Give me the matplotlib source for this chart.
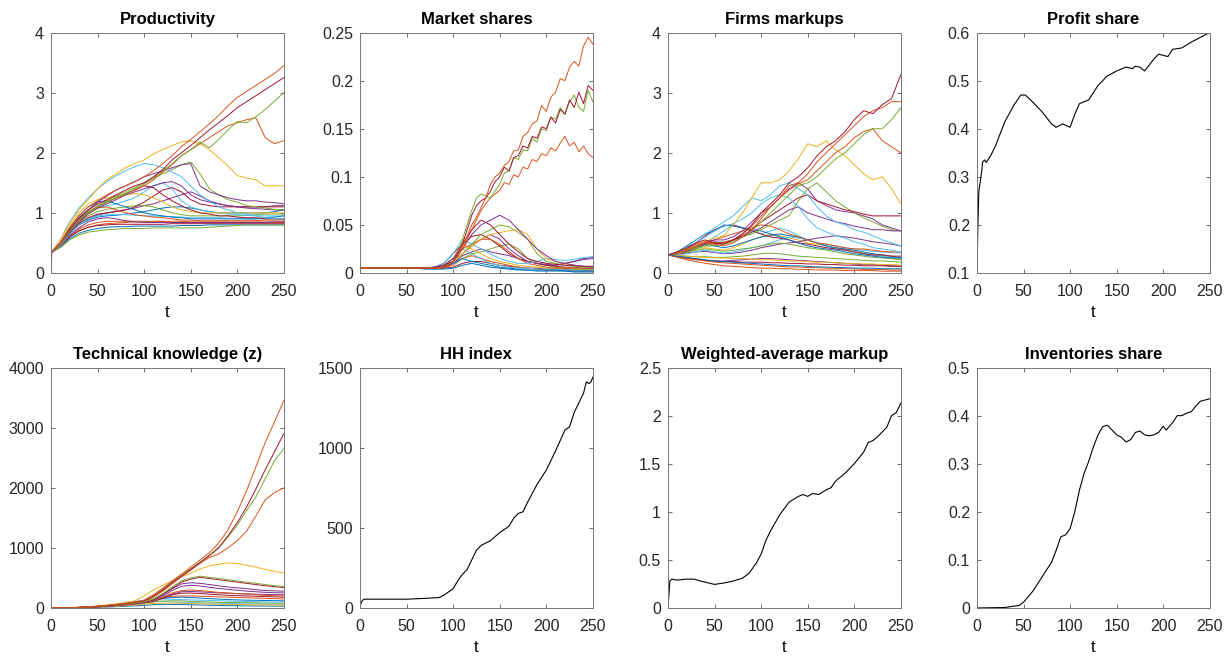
import matplotlib
matplotlib.use("Agg")
import matplotlib.pyplot as plt
from matplotlib.ticker import FormatStrFormatter

plt.rcParams["font.family"] = ["Liberation Sans", "DejaVu Sans"]

# MATLAB default colour order: blue, orange, yellow, purple, green, light blue, crimson
MATLAB = ["#0072BD", "#D95319", "#EDB120", "#7E2F8E", "#77AC30", "#4DBEEE", "#A2142F"]

T10 = [0, 10, 20, 30, 40, 50, 60, 70, 80, 90, 100, 110, 120, 130, 140,
       150, 160, 170, 180, 190, 200, 210, 220, 230, 240, 250]
T5 = [0, 5, 10, 15, 20, 25, 30, 35, 40, 45, 50, 55, 60, 65, 70, 75, 80, 85, 90, 95,
      100, 105, 110, 115, 120, 125, 130, 135, 140, 145, 150, 155, 160, 165, 170, 175,
      180, 185, 190, 195, 200, 205, 210, 215, 220, 225, 230, 235, 240, 245, 250]

# ---- Productivity (firm level), sampled at t = 1, 10, ..., 250
PROD_T = [1, 10, 20, 30, 40, 50, 60, 70, 80, 90, 100, 110, 120, 130, 140,
          150, 160, 170, 180, 190, 200, 210, 220, 230, 240, 250]
PROD_T0, PROD_Y0 = 0, 0.0
PROD_LINES = [
    [.35, .5, .75, .95, 1.1, 1.2, 1.3, 1.38, 1.45, 1.52, 1.6, 1.7, 1.82, 1.95, 2.1, 2.22, 2.35, 2.48, 2.62, 2.78, 2.92, 3.02, 3.12, 3.22, 3.32, 3.45],
    [.35, .5, .72, .92, 1.05, 1.15, 1.22, 1.3, 1.38, 1.45, 1.5, 1.6, 1.72, 1.88, 2.0, 2.12, 2.25, 2.38, 2.5, 2.62, 2.75, 2.85, 2.95, 3.05, 3.15, 3.25],
    [.35, .48, .7, .88, 1.0, 1.1, 1.18, 1.25, 1.32, 1.4, 1.48, 1.58, 1.7, 1.82, 1.95, 2.05, 2.18, 2.08, 2.22, 2.38, 2.52, 2.5, 2.6, 2.72, 2.86, 3.0],
    [.35, .48, .7, .88, 1.0, 1.1, 1.18, 1.25, 1.32, 1.38, 1.45, 1.55, 1.68, 1.8, 1.95, 2.05, 2.15, 2.25, 2.35, 2.45, 2.5, 2.55, 2.58, 2.25, 2.15, 2.2],
    [.35, .55, .82, 1.05, 1.22, 1.4, 1.55, 1.65, 1.75, 1.82, 1.88, 1.98, 2.05, 2.12, 2.18, 2.2, 2.15, 2.05, 1.92, 1.78, 1.62, 1.58, 1.55, 1.45, 1.45, 1.45],
    [.35, .55, .85, 1.08, 1.25, 1.4, 1.52, 1.62, 1.7, 1.77, 1.82, 1.8, 1.75, 1.68, 1.6, 1.45, 1.3, 1.2, 1.1, 1.05, 1.0, .98, .95, .92, .9, .9],
    [.35, .48, .7, .9, 1.05, 1.18, 1.28, 1.38, 1.45, 1.52, 1.6, 1.65, 1.7, 1.75, 1.8, 1.82, 1.45, 1.35, 1.3, 1.25, 1.22, 1.2, 1.2, 1.18, 1.17, 1.15],
    [.35, .48, .7, .88, 1.02, 1.12, 1.2, 1.28, 1.35, 1.42, 1.5, 1.58, 1.65, 1.72, 1.8, 1.85, 1.65, 1.4, 1.3, 1.22, 1.18, 1.12, 1.1, 1.08, 1.06, 1.05],
    [.35, .47, .68, .85, .98, 1.08, 1.15, 1.22, 1.3, 1.35, 1.4, 1.45, 1.5, 1.52, 1.45, 1.3, 1.22, 1.18, 1.15, 1.12, 1.1, 1.08, 1.07, 1.06, 1.05, 1.05],
    [.35, .47, .68, .85, 1.0, 1.1, 1.18, 1.25, 1.32, 1.38, 1.45, 1.42, 1.3, 1.2, 1.12, 1.05, 1.0, .98, .95, .95, .93, .92, .92, .9, .9, .9],
    [.35, .5, .75, .95, 1.1, 1.18, 1.2, 1.15, 1.1, 1.05, 1.0, .97, .95, .93, .92, .9, .9, .9, .9, .9, .9, .9, .9, .92, .93, .95],
    [.35, .47, .7, .88, 1.0, 1.08, 1.1, 1.05, 1.0, .97, .95, .93, .92, .9, .88, .88, .87, .87, .87, .87, .87, .87, .87, .88, .88, .88],
    [.35, .45, .65, .8, .9, .95, .97, .97, .97, .96, .95, .95, .94, .94, .93, .92, .92, .92, .92, .91, .91, .9, .9, .9, .9, .9],
    [.35, .45, .62, .75, .85, .9, .92, .9, .87, .85, .84, .84, .84, .84, .84, .84, .84, .84, .84, .84, .84, .84, .84, .84, .85, .85],
    [.35, .42, .55, .63, .68, .7, .72, .73, .74, .74, .74, .75, .75, .75, .75, .75, .75, .76, .77, .78, .79, .8, .8, .8, .8, .8],
    [.35, .43, .57, .66, .71, .74, .76, .77, .77, .78, .78, .78, .78, .78, .79, .79, .79, .8, .8, .8, .8, .8, .8, .8, .8, .8],
    [.35, .45, .6, .7, .76, .79, .8, .81, .81, .81, .81, .81, .81, .82, .82, .82, .82, .82, .82, .82, .82, .82, .82, .82, .82, .82],
    [.35, .44, .62, .73, .8, .84, .86, .86, .86, .86, .86, .86, .86, .86, .86, .85, .85, .85, .85, .85, .85, .85, .85, .85, .85, .85],
    [.35, .5, .78, 1.0, 1.15, 1.22, 1.25, 1.28, 1.3, 1.32, 1.3, 1.25, 1.18, 1.1, 1.05, 1.02, 1.0, 1.0, 1.0, 1.0, 1.0, 1.0, 1.0, 1.0, 1.0, 1.0],
    [.35, .48, .72, .9, 1.02, 1.08, 1.12, 1.15, 1.2, 1.25, 1.35, 1.45, 1.5, 1.4, 1.2, 1.1, 1.05, 1.02, 1.0, .98, .97, .96, .95, .95, .95, .95],
    [.35, .46, .66, .82, .92, .98, 1.0, 1.02, 1.05, 1.1, 1.18, 1.28, 1.38, 1.42, 1.35, 1.22, 1.15, 1.12, 1.1, 1.1, 1.1, 1.1, 1.1, 1.1, 1.1, 1.1],
    [.35, .46, .65, .8, .88, .93, .95, .96, .98, 1.0, 1.02, 1.05, 1.08, 1.1, 1.1, 1.08, 1.05, 1.02, 1.0, 1.0, 1.0, 1.0, 1.0, 1.0, 1.02, 1.05],
    [.35, .44, .6, .7, .76, .8, .82, .83, .84, .85, .85, .85, .85, .84, .84, .84, .84, .84, .84, .84, .84, .84, .84, .84, .84, .84],
    [.35, .46, .68, .84, .95, 1.02, 1.06, 1.08, 1.1, 1.12, 1.12, 1.1, 1.05, 1.0, .97, .95, .95, .95, .95, .95, .95, .96, .97, .98, .98, .98],
    [.35, .45, .65, .8, .9, .96, 1.0, 1.03, 1.05, 1.08, 1.12, 1.15, 1.2, 1.25, 1.3, 1.35, 1.28, 1.2, 1.15, 1.12, 1.1, 1.1, 1.1, 1.1, 1.12, 1.12],
]
PROD_COLORS = [1, 6, 4, 1, 2, 5, 3, 4, 3, 6, 0, 1, 5, 3, 4, 0, 6, 1, 2, 5, 6, 0, 1, 4, 3]

# ---- Market shares: leading firms every 5 periods, the rest every 10
SHARE_TOP = [
    [.005, .005, .005, .005, .005, .005, .005, .005, .005, .005,
     .005, .005, .005, .005, .005, .005, .005, .005, .007, .009,
     .012, .018, .028, .038, .05, .058, .068, .078, .092, .1,
     .104, .112, .116, .127, .128, .142, .146, .155, .158, .174,
     .168, .183, .188, .202, .2, .214, .22, .215, .236, .245, .238],
    [.005, .005, .005, .005, .005, .005, .005, .005, .005, .005,
     .005, .005, .005, .005, .005, .005, .005, .005, .006, .008,
     .012, .02, .03, .045, .06, .07, .075, .078, .085, .095,
     .1, .11, .106, .12, .122, .132, .13, .142, .14, .152,
     .15, .162, .156, .17, .165, .18, .172, .188, .176, .195, .19],
    [.005, .005, .005, .005, .005, .005, .005, .005, .005, .005,
     .005, .005, .005, .005, .005, .005, .005, .005, .006, .008,
     .012, .02, .035, .05, .065, .078, .082, .08, .078, .085,
     .092, .104, .106, .12, .118, .128, .127, .14, .136, .15,
     .148, .162, .16, .172, .165, .178, .185, .172, .168, .19, .178],
    [.005, .005, .005, .005, .005, .005, .005, .005, .005, .005,
     .005, .005, .005, .005, .005, .005, .005, .005, .006, .008,
     .012, .018, .025, .035, .045, .055, .065, .072, .078, .082,
     .086, .094, .092, .102, .1, .11, .108, .118, .116, .124,
     .122, .13, .127, .135, .142, .132, .136, .126, .132, .124, .12],
]
SHARE_TOP_COLORS = [1, 6, 4, 1]
SHARE_REST = [
    [.005, .005, .005, .005, .005, .005, .005, .005, .006, .008, .012, .025, .04, .05, .055, .06, .055, .045, .035, .025, .018, .012, .01, .008, .007, .006],
    [.005, .005, .005, .005, .005, .005, .005, .005, .006, .008, .015, .03, .045, .055, .05, .04, .03, .022, .015, .012, .01, .009, .008, .008, .007, .007],
    [.005, .005, .005, .005, .005, .005, .005, .005, .005, .008, .012, .02, .028, .035, .04, .042, .044, .045, .04, .025, .015, .012, .01, .008, .007, .006],
    [.005, .005, .005, .005, .005, .005, .005, .005, .005, .007, .012, .02, .03, .04, .045, .05, .048, .042, .035, .02, .012, .01, .008, .007, .006, .006],
    [.005, .005, .005, .005, .005, .005, .005, .005, .006, .01, .02, .035, .03, .025, .02, .015, .012, .01, .01, .012, .015, .014, .013, .014, .016, .017],
    [.005, .005, .005, .005, .005, .005, .005, .005, .006, .008, .012, .02, .028, .035, .04, .035, .025, .018, .012, .01, .009, .008, .01, .012, .015, .016],
    [.005, .005, .005, .005, .005, .005, .005, .005, .006, .008, .012, .025, .03, .035, .035, .03, .022, .015, .01, .008, .006, .005, .005, .005, .005, .005],
    [.005, .005, .005, .005, .005, .005, .005, .005, .005, .006, .01, .015, .012, .01, .008, .006, .005, .004, .003, .003, .003, .003, .002, .002, .002, .002],
    [.005, .005, .005, .005, .005, .005, .005, .005, .006, .01, .02, .03, .038, .04, .035, .028, .02, .015, .012, .01, .008, .007, .006, .006, .005, .005],
    [.005, .005, .005, .005, .005, .005, .005, .005, .005, .007, .01, .015, .02, .022, .025, .028, .03, .025, .015, .01, .008, .006, .005, .004, .004, .004],
    [.005, .005, .005, .005, .005, .005, .005, .005, .006, .008, .015, .025, .02, .015, .01, .008, .006, .005, .005, .004, .004, .004, .003, .003, .003, .003],
    [.005, .005, .005, .005, .005, .005, .005, .005, .005, .007, .012, .03, .025, .02, .015, .012, .01, .008, .007, .006, .005, .005, .005, .004, .004, .004],
    [.005, .005, .005, .005, .005, .005, .005, .004, .004, .004, .005, .008, .01, .008, .006, .005, .004, .003, .003, .002, .002, .002, .002, .001, .001, .001],
    [.005, .005, .005, .005, .005, .005, .005, .005, .005, .006, .008, .015, .018, .015, .012, .01, .008, .006, .005, .004, .003, .003, .003, .002, .002, .002],
    [.005, .005, .005, .005, .005, .005, .005, .005, .005, .006, .01, .018, .022, .025, .022, .02, .018, .015, .012, .01, .008, .008, .01, .012, .014, .015],
    [.005, .005, .005, .005, .005, .005, .005, .005, .005, .005, .006, .01, .012, .012, .01, .008, .007, .006, .005, .005, .004, .004, .004, .004, .003, .003],
]
SHARE_REST_COLORS = [3, 6, 2, 4, 5, 3, 1, 0, 6, 4, 5, 2, 0, 1, 3, 6]

# ---- Firms markups, every 10 periods
MARKUP_LINES = [
    [.3, .35, .42, .5, .55, .5, .48, .55, .65, .8, 1.0, 1.15, 1.3, 1.5, 1.6, 1.75, 1.95, 2.1, 2.2, 2.35, 2.55, 2.7, 2.65, 2.8, 2.9, 3.3],
    [.3, .33, .38, .45, .5, .48, .45, .5, .6, .72, .9, 1.1, 1.25, 1.45, 1.5, 1.65, 1.85, 2.0, 2.15, 2.3, 2.45, 2.6, 2.7, 2.75, 2.85, 2.85],
    [.3, .33, .38, .42, .45, .45, .48, .52, .6, .7, .85, 1.0, 1.15, 1.3, 1.45, 1.5, 1.6, 1.75, 1.9, 2.0, 2.15, 2.3, 2.4, 2.4, 2.55, 2.75],
    [.3, .34, .4, .48, .52, .5, .5, .55, .65, .78, .95, 1.1, 1.25, 1.38, 1.48, 1.55, 1.7, 1.85, 2.0, 2.1, 2.25, 2.35, 2.4, 2.2, 2.1, 2.0],
    [.3, .32, .38, .45, .52, .58, .62, .8, 1.0, 1.25, 1.5, 1.5, 1.55, 1.7, 1.9, 2.15, 2.1, 2.2, 2.05, 1.95, 1.8, 1.65, 1.55, 1.6, 1.4, 1.15],
    [.3, .35, .42, .55, .65, .75, .85, .95, 1.1, 1.25, 1.2, 1.3, 1.45, 1.5, 1.4, 1.3, 1.1, .95, .85, .8, .72, .68, .62, .55, .5, .45],
    [.3, .33, .38, .5, .6, .7, .78, .82, .9, 1.0, 1.15, 1.25, 1.3, 1.25, 1.1, .9, .75, .68, .62, .58, .52, .48, .42, .4, .38, .35],
    [.3, .33, .38, .45, .5, .48, .5, .55, .62, .72, .85, .95, 1.05, 1.15, 1.25, 1.3, 1.2, 1.15, 1.1, 1.05, 1.02, .98, .95, .95, .95, .95],
    [.3, .32, .36, .42, .48, .52, .5, .55, .6, .68, .75, .85, .95, 1.05, 1.1, 1.0, .95, .9, .85, .82, .78, .75, .72, .72, .7, .7],
    [.3, .32, .35, .4, .45, .5, .52, .55, .6, .65, .72, .8, .88, .95, 1.2, 1.4, 1.5, 1.35, 1.2, 1.1, 1.0, .92, .85, .78, .72, .7],
    [.3, .33, .38, .45, .52, .55, .55, .6, .7, .85, 1.0, 1.1, 1.25, 1.4, 1.5, 1.4, 1.2, 1.12, 1.05, 1.02, 1.0, .95, .9, .8, .75, .7],
    [.3, .32, .36, .42, .5, .55, .6, .65, .7, .75, .8, .78, .72, .65, .6, .55, .5, .48, .45, .42, .4, .4, .38, .36, .35, .35],
    [.3, .35, .45, .55, .65, .7, .8, .78, .75, .72, .7, .65, .6, .55, .5, .45, .42, .4, .38, .35, .32, .3, .28, .26, .25, .25],
    [.3, .34, .4, .5, .62, .72, .78, .8, .75, .7, .65, .6, .58, .55, .5, .48, .45, .42, .4, .38, .35, .32, .3, .3, .28, .28],
    [.3, .28, .26, .24, .22, .2, .19, .18, .17, .16, .15, .14, .13, .12, .12, .11, .1, .1, .09, .09, .08, .08, .08, .07, .07, .07],
    [.3, .27, .24, .22, .2, .18, .17, .16, .15, .14, .13, .12, .11, .1, .1, .09, .09, .08, .08, .07, .07, .06, .06, .06, .05, .05],
    [.3, .29, .28, .27, .26, .25, .25, .24, .24, .23, .22, .22, .21, .2, .2, .19, .18, .18, .17, .16, .16, .15, .15, .14, .14, .13],
    [.3, .32, .35, .38, .4, .38, .36, .38, .4, .42, .45, .48, .5, .48, .45, .42, .4, .38, .35, .32, .3, .28, .26, .25, .24, .22],
    [.3, .3, .32, .35, .38, .35, .33, .35, .38, .42, .45, .5, .55, .6, .58, .55, .5, .48, .45, .42, .4, .38, .36, .35, .34, .33],
    [.3, .31, .33, .35, .36, .34, .32, .33, .35, .38, .42, .45, .48, .5, .52, .55, .58, .6, .62, .6, .58, .55, .52, .5, .48, .45],
    [.3, .28, .25, .23, .21, .2, .19, .19, .18, .18, .18, .17, .17, .16, .16, .15, .15, .14, .14, .13, .13, .12, .12, .12, .11, .11],
    [.3, .33, .38, .42, .48, .45, .42, .45, .5, .55, .6, .62, .65, .62, .6, .55, .5, .45, .42, .4, .38, .35, .32, .3, .28, .25],
    [.3, .26, .22, .19, .16, .14, .12, .11, .1, .09, .08, .08, .07, .07, .06, .06, .05, .05, .05, .04, .04, .04, .04, .03, .03, .03],
    [.3, .32, .36, .42, .5, .6, .7, .8, .75, .7, .65, .7, .75, .7, .62, .55, .5, .45, .4, .38, .35, .32, .3, .28, .26, .25],
    [.3, .31, .34, .38, .42, .4, .38, .42, .48, .55, .6, .65, .62, .58, .55, .5, .48, .45, .42, .4, .36, .33, .3, .28, .25, .22],
    [.3, .29, .28, .27, .27, .26, .26, .27, .28, .3, .32, .33, .32, .3, .28, .27, .26, .25, .24, .23, .22, .21, .2, .2, .19, .18],
    [.3, .27, .25, .23, .21, .2, .2, .21, .22, .23, .24, .24, .23, .22, .21, .2, .19, .18, .17, .16, .15, .14, .14, .13, .12, .12],
]
MARKUP_COLORS = [6, 1, 4, 1, 2, 5, 5, 6, 3, 4, 3, 1, 0, 6, 0, 1, 2, 4, 5, 3, 6, 0, 1, 5, 2, 4, 3]

# ---- Technical knowledge z, every 10 periods
Z_LINES = [
    [0, 2, 5, 10, 20, 30, 45, 60, 80, 100, 130, 220, 330, 450, 560, 680, 800, 920, 1080, 1300, 1600, 1950, 2350, 2750, 3100, 3450],
    [0, 2, 5, 10, 18, 28, 40, 55, 75, 95, 120, 200, 300, 420, 530, 640, 760, 870, 1000, 1200, 1420, 1680, 1980, 2300, 2600, 2900],
    [0, 2, 5, 10, 18, 28, 40, 55, 75, 95, 120, 200, 310, 430, 560, 650, 760, 880, 1000, 1180, 1380, 1620, 1850, 2150, 2450, 2650],
    [0, 2, 5, 10, 18, 26, 38, 50, 70, 90, 115, 180, 280, 400, 520, 630, 740, 840, 900, 1000, 1120, 1280, 1530, 1800, 1920, 2000],
    [0, 2, 5, 12, 22, 35, 50, 68, 90, 120, 200, 300, 380, 450, 520, 580, 650, 700, 730, 750, 740, 710, 680, 640, 610, 580],
    [0, 2, 5, 10, 18, 25, 35, 48, 62, 80, 100, 150, 240, 350, 450, 500, 530, 510, 490, 470, 450, 430, 410, 390, 370, 360],
    [0, 2, 5, 10, 18, 25, 35, 48, 62, 80, 100, 145, 230, 330, 430, 480, 510, 490, 470, 450, 430, 410, 390, 370, 355, 340],
    [0, 2, 4, 8, 15, 22, 32, 45, 58, 75, 95, 140, 220, 320, 400, 420, 410, 390, 370, 350, 335, 320, 305, 290, 285, 280],
    [0, 2, 4, 8, 14, 20, 30, 42, 55, 70, 90, 130, 200, 290, 360, 380, 365, 345, 325, 310, 295, 280, 270, 260, 255, 250],
    [0, 2, 4, 8, 14, 20, 30, 42, 55, 72, 90, 120, 180, 250, 290, 300, 290, 275, 260, 250, 240, 230, 220, 210, 205, 200],
    [0, 2, 4, 8, 14, 20, 28, 40, 52, 68, 85, 110, 160, 220, 245, 250, 240, 230, 220, 210, 205, 200, 195, 190, 185, 180],
    [0, 2, 4, 8, 14, 20, 28, 40, 55, 75, 100, 130, 160, 175, 180, 175, 165, 155, 148, 140, 135, 130, 128, 125, 122, 120],
    [0, 2, 4, 9, 16, 25, 38, 55, 75, 100, 130, 150, 150, 145, 140, 135, 130, 125, 120, 115, 112, 108, 105, 102, 100, 100],
    [0, 2, 4, 8, 13, 18, 25, 35, 48, 62, 80, 100, 115, 120, 118, 112, 105, 100, 95, 92, 90, 88, 85, 82, 80, 80],
    [0, 2, 4, 7, 11, 15, 20, 28, 38, 50, 65, 75, 80, 80, 78, 75, 70, 65, 62, 60, 58, 55, 53, 52, 50, 50],
    [0, 1, 3, 5, 8, 12, 16, 22, 28, 35, 45, 55, 60, 60, 58, 55, 50, 45, 42, 40, 38, 35, 33, 32, 30, 30],
    [0, 2, 4, 8, 14, 20, 28, 40, 55, 72, 95, 130, 170, 195, 200, 200, 195, 190, 185, 180, 175, 170, 165, 160, 155, 150],
    [0, 2, 4, 8, 14, 20, 28, 40, 55, 70, 90, 120, 170, 230, 270, 275, 268, 260, 250, 245, 240, 235, 230, 225, 222, 220],
    [0, 2, 5, 10, 18, 28, 42, 60, 82, 110, 125, 120, 110, 100, 95, 90, 85, 80, 78, 75, 72, 70, 68, 65, 62, 60],
]
Z_COLORS = [1, 6, 4, 1, 2, 4, 6, 3, 3, 1, 6, 0, 5, 4, 2, 0, 1, 3, 5]

# ---- Aggregate series
PROFIT_T = [0, 1, 2, 5, 6, 8, 10, 15, 20, 30, 40, 47, 52, 60, 70, 80, 85, 92, 100, 105,
            110, 120, 130, 140, 150, 160, 167, 170, 175, 180, 190, 195, 205, 210, 220, 230, 240, 250]
PROFIT = [0.1, 0.2, 0.27, 0.31, 0.33, 0.335, 0.33, 0.345, 0.365, 0.415, 0.45, 0.47, 0.47, 0.455,
          0.435, 0.41, 0.403, 0.41, 0.403, 0.43, 0.452, 0.46, 0.49, 0.51, 0.52, 0.528, 0.525,
          0.53, 0.528, 0.52, 0.545, 0.555, 0.55, 0.565, 0.568, 0.58, 0.59, 0.6]

HH_T = [0, 1, 3, 5, 50, 70, 85, 90, 100, 105, 110, 115, 120, 125, 130, 140, 145, 150, 160, 165,
        170, 175, 180, 190, 200, 210, 220, 225, 230, 240, 243, 246, 248, 250]
HH = [0, 30, 50, 55, 55, 60, 65, 80, 120, 170, 210, 240, 300, 360, 390, 420, 445, 470, 510, 560,
      590, 600, 660, 770, 860, 980, 1110, 1130, 1220, 1340, 1410, 1400, 1410, 1440]

WMARKUP_T = [0, 2, 4, 10, 20, 28, 35, 50, 60, 70, 80, 87, 95, 100, 105, 110, 120, 130, 140, 145,
             150, 155, 162, 170, 175, 180, 190, 200, 210, 215, 220, 225, 230, 235, 240, 245, 250]
WMARKUP = [0, 0.28, 0.3, 0.29, 0.3, 0.3, 0.28, 0.245, 0.26, 0.28, 0.31, 0.36, 0.47, 0.56, 0.7,
           0.8, 0.97, 1.1, 1.16, 1.18, 1.16, 1.19, 1.18, 1.23, 1.25, 1.32, 1.4, 1.5, 1.62, 1.72,
           1.74, 1.78, 1.83, 1.88, 2.0, 2.03, 2.13]

INV_T = [0, 30, 40, 45, 50, 60, 70, 80, 85, 90, 95, 100, 105, 110, 115, 120, 125, 130, 135, 140,
         145, 150, 155, 160, 165, 170, 175, 180, 185, 190, 195, 200, 203, 210, 215, 220, 225, 230,
         235, 240, 250]
INV = [0, 0.001, 0.004, 0.005, 0.012, 0.035, 0.065, 0.095, 0.12, 0.148, 0.152, 0.165, 0.2, 0.245,
       0.28, 0.305, 0.335, 0.36, 0.377, 0.38, 0.37, 0.36, 0.355, 0.345, 0.35, 0.365, 0.368, 0.36,
       0.358, 0.36, 0.365, 0.378, 0.37, 0.385, 0.4, 0.4, 0.405, 0.408, 0.42, 0.43, 0.435]

XTICKS = [0, 50, 100, 150, 200, 250]


def style(ax, title, ylim, yticks):
    ax.set_xlim(0, 250)
    ax.set_xticks(XTICKS)
    ax.set_ylim(*ylim)
    ax.set_yticks(yticks)
    ax.yaxis.set_major_formatter(FormatStrFormatter("%g"))
    ax.tick_params(direction="in", top=True, right=True, length=3, width=0.6,
                   color="#555555", labelcolor="#262626", labelsize=11.5)
    ax.tick_params(axis="x", pad=8)
    ax.tick_params(axis="y", pad=5)
    for s in ax.spines.values():
        s.set_color("#777777")
        s.set_linewidth(0.7)
    ax.set_title(title, fontweight="bold", fontsize=12, pad=6)
    ax.set_xlabel("t", fontsize=12, labelpad=4)


fig = plt.figure(figsize=(12.32, 6.57), dpi=100)
lefts = [0.0414, 0.2922, 0.5422, 0.7930]
w, h = 0.189, 0.366
axs_top = [fig.add_axes([l, 0.5845, w, h]) for l in lefts]
axs_bot = [fig.add_axes([l, 0.0746, w, h]) for l in lefts]

lw = 0.7
ax = axs_top[0]
for line, c in reversed(list(zip(PROD_LINES, PROD_COLORS))):
    ax.plot(PROD_T, line, color=MATLAB[c], lw=lw)
ax.plot([PROD_T0, PROD_T[0]], [PROD_Y0, PROD_LINES[0][0]], color=MATLAB[3], lw=lw)
style(ax, "Productivity", (0, 4), [0, 1, 2, 3, 4])

ax = axs_top[1]
for line, c in reversed(list(zip(SHARE_REST, SHARE_REST_COLORS))):
    ax.plot(T10, line, color=MATLAB[c], lw=lw)
for line, c in reversed(list(zip(SHARE_TOP, SHARE_TOP_COLORS))):
    ax.plot(T5, line, color=MATLAB[c], lw=lw)
style(ax, "Market shares", (0, 0.25), [0, 0.05, 0.1, 0.15, 0.2, 0.25])

ax = axs_top[2]
for line, c in reversed(list(zip(MARKUP_LINES, MARKUP_COLORS))):
    ax.plot(T10, line, color=MATLAB[c], lw=lw)
style(ax, "Firms markups", (0, 4), [0, 1, 2, 3, 4])

ax = axs_top[3]
ax.plot(PROFIT_T, PROFIT, color="k", lw=0.8)
style(ax, "Profit share", (0.1, 0.6), [0.1, 0.2, 0.3, 0.4, 0.5, 0.6])

ax = axs_bot[0]
for line, c in reversed(list(zip(Z_LINES, Z_COLORS))):
    ax.plot(T10, line, color=MATLAB[c], lw=lw)
style(ax, "Technical knowledge (z)", (0, 4000), [0, 1000, 2000, 3000, 4000])

ax = axs_bot[1]
ax.plot(HH_T, HH, color="k", lw=0.8)
style(ax, "HH index", (0, 1500), [0, 500, 1000, 1500])

ax = axs_bot[2]
ax.plot(WMARKUP_T, WMARKUP, color="k", lw=0.8)
style(ax, "Weighted-average markup", (0, 2.5), [0, 0.5, 1, 1.5, 2, 2.5])

ax = axs_bot[3]
ax.plot(INV_T, INV, color="k", lw=0.8)
style(ax, "Inventories share", (0, 0.5), [0, 0.1, 0.2, 0.3, 0.4, 0.5])

fig.savefig("out.png", dpi=100)
